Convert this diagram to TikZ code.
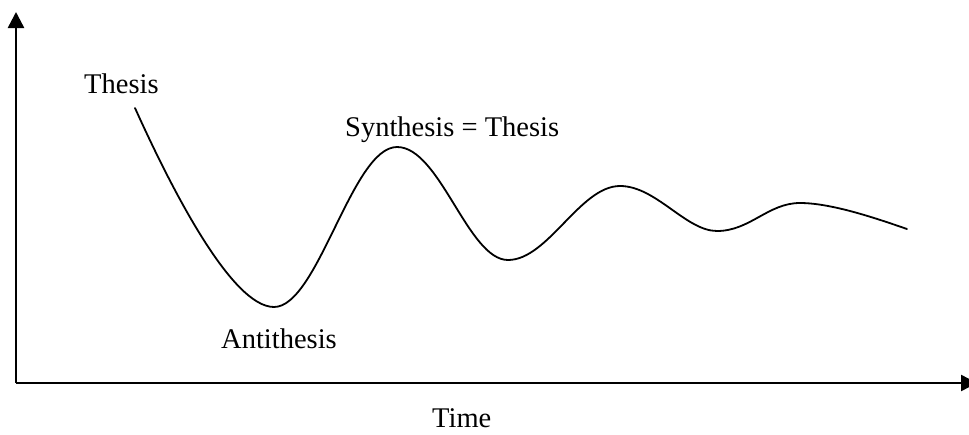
\documentclass[tikz,border=0pt]{standalone}
\usepackage{fontspec}
\setmainfont{Liberation Serif}
\usetikzlibrary{arrows.meta}
\tikzset{
  axis/.style={line width=2.5pt, -{Triangle[length=16pt,width=16pt]}},
  wave/.style={line width=1.8pt, line join=round, line cap=round},
  lbl/.style={inner sep=0pt, anchor=base west, font=\fontsize{28.5}{34}\selectfont}
}
\begin{document}
\begin{tikzpicture}[x=1pt, y=-1pt]
\useasboundingbox (0,0) rectangle (969,434);
\coordinate (o) at (16,383);
\coordinate (ytip) at (16,12);
\coordinate (xtip) at (977,383);
\begin{scope}
\clip (0,0) rectangle (969,434);
\draw[axis] (o) -- (ytip);
\draw[axis] (o) -- (xtip);
\end{scope}
\draw[wave] (135,108) .. controls (172,190) and (232,307) .. (274,307)
  .. controls (318,307) and (352,147) .. (397,147)
  .. controls (440,147) and (468,260) .. (508,260)
  .. controls (548,260) and (580,186) .. (620,186)
  .. controls (656,186) and (686,231) .. (717,231)
  .. controls (750,231) and (768,203) .. (800,203)
  .. controls (832,203) and (878,219) .. (907,229);
\node[lbl] (thesis) at (84,93) {Thesis};
\node[lbl] (synth) at (345,136) {Synthesis = Thesis};
\node[lbl] (anti) at (221,348) {Antithesis};
\node[lbl] (time) at (432,427) {Time};
\end{tikzpicture}
\end{document}
